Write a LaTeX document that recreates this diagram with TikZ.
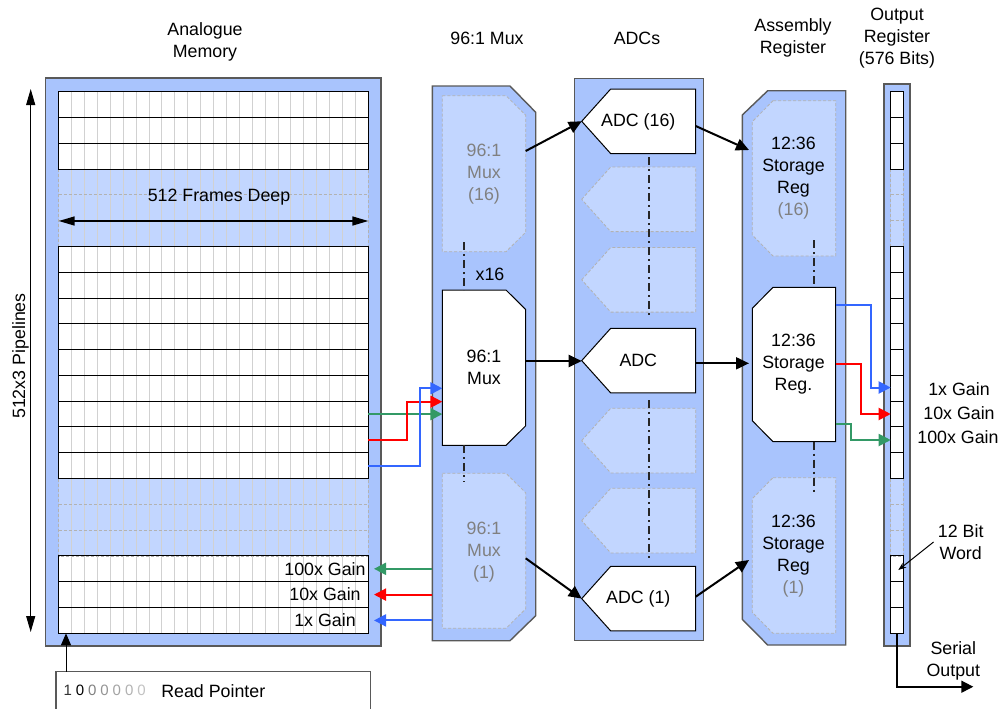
\documentclass[tikz,border=0pt]{standalone}
\usepackage{fontspec}
\setmainfont{Liberation Sans}
\usetikzlibrary{arrows.meta}

\definecolor{colblue}{RGB}{169,196,253}
\definecolor{ghostblue}{RGB}{194,214,255}
\definecolor{sigblue}{RGB}{51,102,255}
\definecolor{sigred}{RGB}{255,0,0}
\definecolor{siggreen}{RGB}{51,153,102}

\begin{document}
\begin{tikzpicture}[x=0.5pt, y=-0.5pt, line join=miter,
    font=\fontsize{8.9}{11}\selectfont]

    \pgfmathsetmacro{\rowtop}{91.7}
    \pgfmathsetmacro{\rowh}{25.79}
    \pgfmathsetmacro{\colw}{12.9}
    \pgfmathsetmacro{\gridbot}{\rowtop+21*\rowh}

    \tikzset{
      apply style/.code = {\tikzset{#1}},
      column_box/.style = {fill=colblue, draw=black!65, line width=0.7pt},
      live_box/.style   = {fill=white, draw=black, line width=0.5pt},
      ghost_box/.style  = {fill=ghostblue, draw=black!30, line width=0.4pt,
                           dash pattern=on 1.5pt off 1pt},
      ghost_text/.style = {text=black!50},
      txt/.style        = {align=center, inner sep=0pt},
      dot_dash/.style   = {draw=black!85, line width=1pt,
                           dash pattern=on 4pt off 2pt on 1pt off 2pt},
      sig_arrow/.style  = {line width=1pt, -{Triangle[length=6.5pt,width=6pt]}},
      gain_arrow/.style = {line width=1pt, -{Triangle[length=6pt,width=6pt]}},
      span_arrow/.style = {{Triangle[length=8pt,width=4.5pt]}-{Triangle[length=8pt,width=4.5pt]}}
    }

    \useasboundingbox (0,0) rectangle (1000,708);

    % column titles
    \node[txt] (mem_title) at (205,42)   {Analogue\\Memory};
    \node[txt] (mux_title) at (487,38)   {96:1 Mux};
    \node[txt] (adc_title) at (637,38)   {ADCs};
    \node[txt] (asm_title) at (793,37.5) {Assembly\\Register};
    \node[txt] (out_title) at (897,38.5) {Output\\Register\\(576 Bits)};

    % analogue memory and output register
    \draw[column_box] (45.7,78) rectangle (381,646);
    \draw[column_box] (884,84) rectangle (910,646);

    \foreach \xa/\xb in {58.7/368.3, 890.7/903.3}{
      \fill[white] (\xa,\rowtop) rectangle (\xb,\gridbot);
      \foreach \ra in {3,15}{
        \draw[ghost_box] (\xa,{\rowtop+\ra*\rowh}) rectangle (\xb,{\rowtop+(\ra+3)*\rowh});
      }
    }
    \foreach \c in {1,...,23}{
      \draw[black!18, line width=0.5pt] ({58.7+\c*\colw},\rowtop) -- ({58.7+\c*\colw},\gridbot);
    }
    \foreach \xa/\xb in {58.7/368.3, 890.7/903.3}{
      \foreach \r in {4,5,16,17}{
        \draw[black!30, line width=0.4pt, dash pattern=on 1.5pt off 1pt]
          (\xa,{\rowtop+\r*\rowh}) -- (\xb,{\rowtop+\r*\rowh});
      }
      \foreach \ra/\rb in {0/3, 6/15, 18/21}{
        \draw[live_box, fill=none] (\xa,{\rowtop+\ra*\rowh}) rectangle (\xb,{\rowtop+\rb*\rowh});
      }
      \foreach \r in {1,2,7,8,...,14,19,20}{
        \draw[black, line width=0.5pt] (\xa,{\rowtop+\r*\rowh}) -- (\xb,{\rowtop+\r*\rowh});
      }
    }

    \node[txt] (frames_lbl) at (219,197) {512 Frames Deep};
    \coordinate (frames_l) at (58.7,221);
    \coordinate (frames_r) at (368.3,221);
    \draw[span_arrow, line width=0.8pt] (frames_l) -- (frames_r);

    \coordinate (pipe_top) at (30.7,89);
    \coordinate (pipe_bot) at (30.7,632);
    \draw[span_arrow, line width=0.5pt] (pipe_top) -- (pipe_bot);
    \node[txt, rotate=90] (pipe_lbl) at (20.5,356) {512x3 Pipelines};

    \node[txt] (gain_100) at (325,568.8) {100x Gain};
    \node[txt] (gain_10)  at (325,594.6) {10x Gain};
    \node[txt] (gain_1)   at (325,620.4) {1x Gain};

    % 96:1 mux column
    \draw[column_box] (432.3,86) -- (510,86) -- (535.7,112.3) -- (535.7,615.7)
                      -- (510,640.7) -- (432.3,640.7) -- cycle;
    \foreach \ya/\yb/\kind in {95.7/251.7/ghost_box, 290/445.3/live_box, 473.3/628.3/ghost_box}{
      \draw[apply style/.expand once=\kind] (442.3,\ya) -- (506,\ya) -- (525.7,{\ya+19.5})
           -- (525.7,{\yb-19.5}) -- (506,\yb) -- (442.3,\yb) -- cycle;
    }
    \node[txt, ghost_text] (mux_16)   at (484,173.7) {96:1\\Mux\\(16)};
    \node[txt]             (mux_main) at (484,367.5) {96:1\\Mux};
    \node[txt, ghost_text] (mux_1)    at (484,551.7) {96:1\\Mux\\(1)};
    \draw[dot_dash] (463.7,242) -- (463.7,290);
    \draw[dot_dash] (463.7,445.3) -- (463.7,481.7);
    \node[txt] (mux_count) at (490,274) {x16};

    % ADC column
    \draw[column_box] (574.3,78.3) rectangle (703.3,640.7);
    \foreach \ya/\kind in {89/live_box, 167/ghost_box, 247.5/ghost_box, 328.3/live_box,
                           408.3/ghost_box, 488.3/ghost_box, 566.3/live_box}{
      \draw[apply style/.expand once=\kind] (581.7,{\ya+32.3}) -- (610.7,\ya) -- (695.7,\ya)
           -- (695.7,{\ya+64.6}) -- (610.7,{\ya+64.6}) -- cycle;
    }
    \draw[dot_dash] (649.3,157) -- (649.3,318);
    \draw[dot_dash] (649.3,400) -- (649.3,561.7);
    \node[txt] (adc_16)   at (638.3,121.7) {ADC (16)};
    \node[txt] (adc_main) at (638.3,360.6) {ADC};
    \node[txt] (adc_1)    at (638.3,598.6) {ADC (1)};

    % assembly register column
    \draw[column_box] (767.7,90.7) -- (845.7,90.7) -- (845.7,645) -- (767.7,645)
                      -- (742.3,619.3) -- (742.3,115) -- cycle;
    \foreach \ya/\yb/\kind in {100.7/256/ghost_box, 287.3/441.7/live_box, 477.7/633.3/ghost_box}{
      \draw[apply style/.expand once=\kind] (773,\ya) -- (835.7,\ya) -- (835.7,\yb)
           -- (773,\yb) -- (752.3,{\yb-21}) -- (752.3,{\ya+21}) -- cycle;
    }
    \draw[dot_dash] (814.3,240) -- (814.3,287.3);
    \draw[dot_dash] (814.3,441.7) -- (814.3,491.7);
    \node[txt] (reg_16)   at (793.5,178) {12:36\\Storage\\Reg\\{\color{black!50}(16)}};
    \node[txt] (reg_main) at (793.5,364) {12:36\\Storage\\Reg.};
    \node[txt] (reg_1)    at (793.5,556) {12:36\\Storage\\Reg\\{\color{black!50}(1)}};

    % data path
    \coordinate (mux16_out) at (525.7,151);
    \coordinate (muxm_out)  at (525.7,361);
    \coordinate (mux1_out)  at (525.7,558.3);
    \coordinate (adc16_in)  at (581.7,121.3);
    \coordinate (adcm_in)   at (581.7,361);
    \coordinate (adc1_in)   at (581.7,598.6);
    \coordinate (adc16_out) at (695.7,126);
    \coordinate (adcm_out)  at (695.7,363.3);
    \coordinate (adc1_out)  at (695.7,596.7);
    \coordinate (reg16_in)  at (749,150);
    \coordinate (regm_in)   at (749,363.3);
    \coordinate (reg1_in)   at (749,560);
    \draw[sig_arrow] (mux16_out) -- (adc16_in);
    \draw[sig_arrow] (muxm_out)  -- (adcm_in);
    \draw[sig_arrow] (mux1_out)  -- (adc1_in);
    \draw[sig_arrow] (adc16_out) -- (reg16_in);
    \draw[sig_arrow] (adcm_out)  -- (regm_in);
    \draw[sig_arrow] (adc1_out)  -- (reg1_in);

    % gain lines memory -> mux
    \coordinate (mem_g)    at (368.3,414.1);
    \coordinate (mem_r)    at (368.3,439.9);
    \coordinate (mem_b)    at (368.3,465.7);
    \coordinate (mux_in_g) at (442.3,414.1);
    \coordinate (mux_in_r) at (442.3,401.7);
    \coordinate (mux_in_b) at (442.3,388.3);
    \draw[gain_arrow, siggreen] (mem_g) -- (mux_in_g);
    \draw[gain_arrow, sigred]   (mem_r) -- ++(38.4,0) |- (mux_in_r);
    \draw[gain_arrow, sigblue]  (mem_b) -- ++(51.7,0) |- (mux_in_b);

    % gain lines mux -> memory
    \coordinate (mux_ret_g) at (432.3,568.8);
    \coordinate (mux_ret_r) at (432.3,594.6);
    \coordinate (mux_ret_b) at (432.3,620.4);
    \coordinate (mem_ret_g) at (374,568.8);
    \coordinate (mem_ret_r) at (374,594.6);
    \coordinate (mem_ret_b) at (374,620.4);
    \draw[gain_arrow, siggreen] (mux_ret_g) -- (mem_ret_g);
    \draw[gain_arrow, sigred]   (mux_ret_r) -- (mem_ret_r);
    \draw[gain_arrow, sigblue]  (mux_ret_b) -- (mem_ret_b);

    % gain lines register -> output
    \coordinate (reg_b) at (835.7,305);
    \coordinate (reg_r) at (835.7,364.3);
    \coordinate (reg_g) at (835.7,424.3);
    \coordinate (out_b) at (890.7,387.5);
    \coordinate (out_r) at (890.7,414);
    \coordinate (out_g) at (890.7,440);
    \draw[gain_arrow, sigblue]  (reg_b) -- ++(35.3,0) |- (out_b);
    \draw[gain_arrow, sigred]   (reg_r) -- ++(25,0)   |- (out_r);
    \draw[gain_arrow, siggreen] (reg_g) -- ++(15,0)   |- (out_g);

    \node[txt] (out_gain_1)   at (959,389.3) {1x Gain};
    \node[txt] (out_gain_10)  at (959,413.3) {10x Gain};
    \node[txt] (out_gain_100) at (958,437.3) {100x Gain};

    \node[txt] (word_lbl) at (960.7,542) {12 Bit\\Word};
    \coordinate (word_cell) at (898.3,570);
    \draw[line width=0.5pt, -{Stealth[length=4pt,width=3pt]}] ([xshift=-2pt]word_lbl.west) -- (word_cell);

    \coordinate (out_last)   at (896.7,633.3);
    \coordinate (serial_end) at (973.3,686.7);
    \draw[line width=0.8pt, -{Triangle[length=6pt,width=6pt]}] (out_last) |- (serial_end);
    \node[txt] (serial_lbl) at (953.3,661) {Serial\\Output};

    % read pointer
    \draw[draw=black!65, line width=0.6pt, fill=white] (56,671.7) rectangle (370.7,716);
    \foreach \i/\d/\c in {0/1/black!80, 1/0/black, 2/0/black!50, 3/0/black!42,
                          4/0/black!36, 5/0/black!30, 6/0/black!24}{
      \node[txt, text=\c, font=\fontsize{7.5}{9}\selectfont] (rp_bit\i) at ({67.7+\i*12.3},690.7) {\d};
    }
    \node[txt] (rp_lbl) at (213.3,690.7) {Read Pointer};
    \coordinate (rp_top)  at (66,671.7);
    \coordinate (grid_bl) at (66,\gridbot);
    \draw[line width=0.5pt, -{Triangle[length=6pt,width=5pt]}] (rp_top) -- (grid_bl);

\end{tikzpicture}
\end{document}
